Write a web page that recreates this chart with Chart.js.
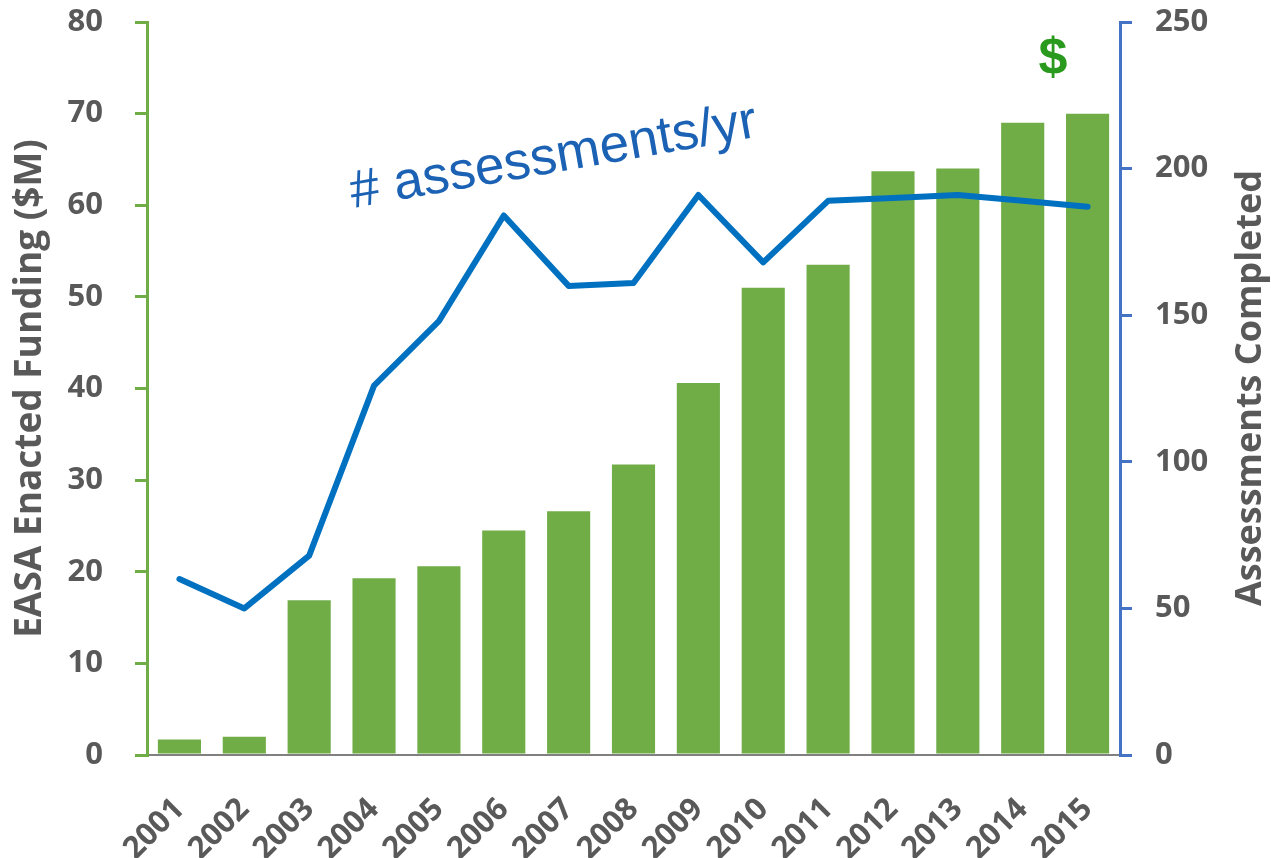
<!DOCTYPE html>
<html>
<head>
<meta charset="utf-8">
<script src="https://cdn.jsdelivr.net/npm/chart.js@4"></script>
<style>
  html, body { margin: 0; padding: 0; background: #ffffff; }
  #wrap { width: 1271px; height: 858px; }
</style>
</head>
<body>
<div id="wrap"><canvas id="c" width="1271" height="858"></canvas></div>
<script>
const years = ['2001','2002','2003','2004','2005','2006','2007','2008','2009','2010','2011','2012','2013','2014','2015'];
const funding = [1.7, 2.0, 16.9, 19.3, 20.6, 24.5, 26.6, 31.7, 40.6, 51.0, 53.5, 63.7, 64.0, 69.0, 70.0];
const assessments = [60, 50, 68, 126, 148, 184, 160, 161, 191, 168, 189, 190, 191, 189, 187];
const leftTicks = [0, 10, 20, 30, 40, 50, 60, 70, 80];
const rightTicks = [0, 50, 100, 150, 200, 250];
const leftTitle = 'EASA Enacted Funding ($M)';
const rightTitle = 'Assessments Completed';
const lineNote = '# assessments/yr';
const barNote = '$';

const TXT = '#595959';
const FONT = "'Open Sans', 'DejaVu Sans', sans-serif";

const annotations = {
  id: 'annotations',
  afterDraw(chart) {
    const ctx = chart.ctx;
    ctx.save();
    // right axis title, reading bottom to top
    ctx.font = "bold 36px " + FONT;
    ctx.fillStyle = TXT;
    ctx.textAlign = 'center';
    ctx.textBaseline = 'alphabetic';
    ctx.translate(1261, 388);
    ctx.rotate(-Math.PI / 2);
    ctx.fillText(rightTitle, 0, 0);
    ctx.restore();

    // line note
    ctx.save();
    ctx.font = "53px 'Liberation Sans', Arial, sans-serif";
    ctx.fillStyle = '#1C62B4';
    ctx.textAlign = 'left';
    ctx.textBaseline = 'alphabetic';
    ctx.translate(353, 208);
    ctx.rotate(-10 * Math.PI / 180);
    ctx.fillText(lineNote, 0, 0);
    ctx.restore();

    // dollar note
    ctx.save();
    ctx.font = "bold 52px 'Liberation Sans', Arial, sans-serif";
    ctx.fillStyle = '#2A9A1E';
    ctx.textAlign = 'center';
    ctx.textBaseline = 'alphabetic';
    const m = ctx.measureText(barNote);
    const h = m.actualBoundingBoxAscent + m.actualBoundingBoxDescent;
    ctx.fillText(barNote, 1053, 56 + h / 2 - m.actualBoundingBoxDescent);
    ctx.restore();
  }
};

new Chart(document.getElementById('c'), {
  data: {
    labels: years,
    datasets: [
      {
        type: 'line',
        label: 'Assessments',
        data: assessments,
        yAxisID: 'y1',
        borderColor: '#0070C0',
        borderWidth: 6,
        pointRadius: 0,
        tension: 0,
        borderJoinStyle: 'round',
        borderCapStyle: 'round',
        order: 0
      },
      {
        type: 'bar',
        label: 'Funding',
        data: funding,
        yAxisID: 'y',
        backgroundColor: '#70AD47',
        borderWidth: 0,
        barPercentage: 0.665,
        categoryPercentage: 1.0,
        order: 1
      }
    ]
  },
  options: {
    responsive: false,
    animation: false,
    layout: { padding: { top: 22, left: 0, right: 0, bottom: 0 } },
    plugins: { legend: { display: false }, tooltip: { enabled: false } },
    scales: {
      x: {
        grid: { display: false, drawTicks: false },
        border: { display: true, color: '#808080', width: 2 },
        ticks: {
          color: TXT,
          font: { family: FONT, size: 31, weight: 'bold' },
          minRotation: 45, maxRotation: 45,
          padding: 36,
          autoSkip: false
        },
        afterFit(s) { s.height = 103; s.paddingLeft = 0; s.paddingRight = 0; }
      },
      y: {
        position: 'left',
        min: 0, max: 80,
        afterBuildTicks(s) { s.ticks = leftTicks.map(v => ({ value: v })); },
        grid: { display: true, drawOnChartArea: false, drawTicks: true, tickLength: 12, color: '#70AD47', lineWidth: 3 },
        border: { display: true, color: '#70AD47', width: 3 },
        ticks: {
          color: TXT,
          font: { family: FONT, size: 31, weight: 'bold' },
          padding: 32
        },
        title: {
          display: true,
          text: leftTitle,
          color: TXT,
          font: { family: FONT, size: 37, weight: 'bold' },
          padding: { top: 8, bottom: 0 }
        },
        afterFit(s) { s.width = 147; s.paddingTop = 0; s.paddingBottom = 0; }
      },
      y1: {
        position: 'right',
        min: 0, max: 250,
        afterBuildTicks(s) { s.ticks = rightTicks.map(v => ({ value: v })); },
        grid: { display: true, drawOnChartArea: false, drawTicks: true, tickLength: 12, color: '#4472C4', lineWidth: 3 },
        border: { display: true, color: '#4472C4', width: 3 },
        ticks: {
          color: TXT,
          font: { family: FONT, size: 31, weight: 'bold' },
          padding: 23
        },
        afterFit(s) { s.width = 151; s.paddingTop = 0; s.paddingBottom = 0; }
      }
    }
  },
  plugins: [annotations]
});
</script>
</body>
</html>
